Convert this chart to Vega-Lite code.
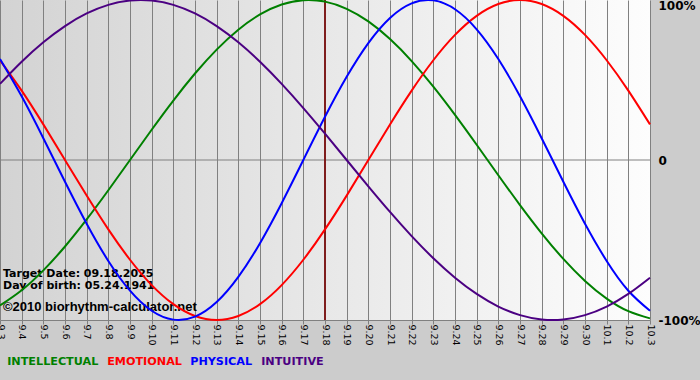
{
  "$schema": "https://vega.github.io/schema/vega-lite/v6.json",
  "width": 650,
  "height": 320,
  "autosize": {"type": "none"},
  "padding": {"left": 0, "top": 0, "right": 50, "bottom": 60},
  "background": "#cccccc",
  "config": {
    "font": "DejaVu Sans",
    "view": {
      "stroke": null,
      "fill": {"x1": 0, "y1": 0, "x2": 1, "y2": 0, "gradient": "linear", "stops": [{"offset": 0, "color": "#d3d3d3"}, {"offset": 1, "color": "#fdfdfd"}]}
    }
  },
  "datasets": {
    "bio": [
      {"d": "9.3", "INTELLECTUAL": -0.9096, "EMOTIONAL": 0.6235, "PHYSICAL": 0.6311, "INTUITIVE": 0.4759},
      {"d": "9.4", "INTELLECTUAL": -0.8146, "EMOTIONAL": 0.4339, "PHYSICAL": 0.3984, "INTUITIVE": 0.6142},
      {"d": "9.5", "INTELLECTUAL": -0.6901, "EMOTIONAL": 0.2225, "PHYSICAL": 0.1362, "INTUITIVE": 0.7357},
      {"d": "9.6", "INTELLECTUAL": -0.5406, "EMOTIONAL": 0, "PHYSICAL": -0.1362, "INTUITIVE": 0.8372},
      {"d": "9.7", "INTELLECTUAL": -0.3717, "EMOTIONAL": -0.2225, "PHYSICAL": -0.3984, "INTUITIVE": 0.9158},
      {"d": "9.8", "INTELLECTUAL": -0.1893, "EMOTIONAL": -0.4339, "PHYSICAL": -0.6311, "INTUITIVE": 0.9694},
      {"d": "9.9", "INTELLECTUAL": 0, "EMOTIONAL": -0.6235, "PHYSICAL": -0.817, "INTUITIVE": 0.9966},
      {"d": "9.10", "INTELLECTUAL": 0.1893, "EMOTIONAL": -0.7818, "PHYSICAL": -0.9423, "INTUITIVE": 0.9966},
      {"d": "9.11", "INTELLECTUAL": 0.3717, "EMOTIONAL": -0.901, "PHYSICAL": -0.9977, "INTUITIVE": 0.9694},
      {"d": "9.12", "INTELLECTUAL": 0.5406, "EMOTIONAL": -0.9749, "PHYSICAL": -0.9791, "INTUITIVE": 0.9158},
      {"d": "9.13", "INTELLECTUAL": 0.6901, "EMOTIONAL": -1, "PHYSICAL": -0.8879, "INTUITIVE": 0.8372},
      {"d": "9.14", "INTELLECTUAL": 0.8146, "EMOTIONAL": -0.9749, "PHYSICAL": -0.7308, "INTUITIVE": 0.7357},
      {"d": "9.15", "INTELLECTUAL": 0.9096, "EMOTIONAL": -0.901, "PHYSICAL": -0.5196, "INTUITIVE": 0.6142},
      {"d": "9.16", "INTELLECTUAL": 0.9718, "EMOTIONAL": -0.7818, "PHYSICAL": -0.2698, "INTUITIVE": 0.4759},
      {"d": "9.17", "INTELLECTUAL": 0.9989, "EMOTIONAL": -0.6235, "PHYSICAL": 0, "INTUITIVE": 0.3247},
      {"d": "9.18", "INTELLECTUAL": 0.9898, "EMOTIONAL": -0.4339, "PHYSICAL": 0.2698, "INTUITIVE": 0.1646},
      {"d": "9.19", "INTELLECTUAL": 0.945, "EMOTIONAL": -0.2225, "PHYSICAL": 0.5196, "INTUITIVE": 0},
      {"d": "9.20", "INTELLECTUAL": 0.866, "EMOTIONAL": 0, "PHYSICAL": 0.7308, "INTUITIVE": -0.1646},
      {"d": "9.21", "INTELLECTUAL": 0.7557, "EMOTIONAL": 0.2225, "PHYSICAL": 0.8879, "INTUITIVE": -0.3247},
      {"d": "9.22", "INTELLECTUAL": 0.6182, "EMOTIONAL": 0.4339, "PHYSICAL": 0.9791, "INTUITIVE": -0.4759},
      {"d": "9.23", "INTELLECTUAL": 0.4582, "EMOTIONAL": 0.6235, "PHYSICAL": 0.9977, "INTUITIVE": -0.6142},
      {"d": "9.24", "INTELLECTUAL": 0.2817, "EMOTIONAL": 0.7818, "PHYSICAL": 0.9423, "INTUITIVE": -0.7357},
      {"d": "9.25", "INTELLECTUAL": 0.0951, "EMOTIONAL": 0.901, "PHYSICAL": 0.817, "INTUITIVE": -0.8372},
      {"d": "9.26", "INTELLECTUAL": -0.0951, "EMOTIONAL": 0.9749, "PHYSICAL": 0.6311, "INTUITIVE": -0.9158},
      {"d": "9.27", "INTELLECTUAL": -0.2817, "EMOTIONAL": 1, "PHYSICAL": 0.3984, "INTUITIVE": -0.9694},
      {"d": "9.28", "INTELLECTUAL": -0.4582, "EMOTIONAL": 0.9749, "PHYSICAL": 0.1362, "INTUITIVE": -0.9966},
      {"d": "9.29", "INTELLECTUAL": -0.6182, "EMOTIONAL": 0.901, "PHYSICAL": -0.1362, "INTUITIVE": -0.9966},
      {"d": "9.30", "INTELLECTUAL": -0.7557, "EMOTIONAL": 0.7818, "PHYSICAL": -0.3984, "INTUITIVE": -0.9694},
      {"d": "10.1", "INTELLECTUAL": -0.866, "EMOTIONAL": 0.6235, "PHYSICAL": -0.6311, "INTUITIVE": -0.9158},
      {"d": "10.2", "INTELLECTUAL": -0.945, "EMOTIONAL": 0.4339, "PHYSICAL": -0.817, "INTUITIVE": -0.8372},
      {"d": "10.3", "INTELLECTUAL": -0.9898, "EMOTIONAL": 0.2225, "PHYSICAL": -0.9423, "INTUITIVE": -0.7357}
    ],
    "notes": [
      {"d": "9.3", "v": -0.729, "t": "Target Date: 09.18.2025"},
      {"d": "9.3", "v": -0.808, "t": "Day of birth: 05.24.1941"}
    ],
    "credit": [
      {"d": "9.3", "v": -0.944, "t": "©2010 biorhythm-calculator.net"}
    ],
    "zero": [{"v": 0}],
    "target": [{"d": "9.18"}]
  },
  "layer": [
    {
      "data": {"name": "zero"},
      "mark": {"type": "rule", "color": "#808080", "strokeWidth": 1},
      "encoding": {
        "y": {"field": "v", "type": "quantitative", "title": null}
      }
    },
    {
      "data": {"name": "target"},
      "mark": {"type": "rule", "color": "#7f1d1d", "strokeWidth": 2},
      "encoding": {
        "x": {"field": "d", "type": "ordinal", "title": null}
      }
    },
    {
      "data": {"name": "notes"},
      "mark": {"type": "text", "align": "left", "baseline": "alphabetic", "dx": 3, "font": "DejaVu Sans", "fontSize": 11, "fontWeight": "bold", "color": "#000000"},
      "encoding": {
        "x": {"field": "d", "type": "ordinal", "title": null},
        "y": {"field": "v", "type": "quantitative", "title": null},
        "text": {"field": "t", "type": "nominal"}
      }
    },
    {
      "data": {"name": "credit"},
      "mark": {"type": "text", "align": "left", "baseline": "alphabetic", "dx": 3, "font": "Liberation Sans", "fontSize": 13, "fontWeight": "bold", "color": "#000000"},
      "encoding": {
        "x": {"field": "d", "type": "ordinal", "title": null},
        "y": {"field": "v", "type": "quantitative", "title": null},
        "text": {"field": "t", "type": "nominal"}
      }
    },
    {
      "data": {"name": "bio"},
      "transform": [{"fold": ["INTELLECTUAL", "EMOTIONAL", "PHYSICAL", "INTUITIVE"], "as": ["s", "v"]}],
      "mark": {"type": "line", "interpolate": "natural", "strokeWidth": 2},
      "encoding": {
        "x": {
          "field": "d", "type": "ordinal", "title": null,
          "scale": {"type": "point", "padding": 0, "domain": ["9.3","9.4","9.5","9.6","9.7","9.8","9.9","9.10","9.11","9.12","9.13","9.14","9.15","9.16","9.17","9.18","9.19","9.20","9.21","9.22","9.23","9.24","9.25","9.26","9.27","9.28","9.29","9.30","10.1","10.2","10.3"]},
          "axis": {"labelAngle": 90, "labelAlign": "left", "labelBaseline": "middle", "labelPadding": 0, "tickSize": 4, "tickColor": "#808080", "domainColor": "#808080", "grid": true, "gridColor": "#808080", "gridOpacity": 1, "labelFont": "DejaVu Sans", "labelFontSize": 9.5, "labelColor": "#000000", "labelOverlap": false, "labelFlush": false}
        },
        "y": {
          "field": "v", "type": "quantitative", "title": null,
          "scale": {"domain": [-1, 1], "nice": false, "zero": false},
          "axis": {"orient": "right", "values": [-1, 0, 1], "grid": false, "domain": false, "ticks": false, "labelPadding": 8, "labelFont": "DejaVu Sans", "labelFontSize": 12, "labelFontWeight": "bold", "labelColor": "#000000", "labelFlush": false, "labelExpr": "datum.value == 1 ? '100%' : datum.value == 0 ? '0' : '-100%'", "labelBaseline": {"condition": {"test": "datum.value == 1", "value": "top"}, "value": "middle"}}
        },
        "color": {
          "field": "s", "type": "nominal",
          "scale": {"domain": ["INTELLECTUAL", "EMOTIONAL", "PHYSICAL", "INTUITIVE"], "range": ["#008000", "#ff0000", "#0000ff", "#4b0082"]},
          "legend": {"title": null, "orient": "bottom", "direction": "horizontal", "offset": 10, "padding": 0, "symbolSize": 0, "symbolStrokeWidth": 0, "symbolOpacity": 0, "labelOffset": -4, "columnPadding": 1, "labelFont": "DejaVu Sans", "labelFontSize": 11.2, "labelFontWeight": "bold", "labelLimit": 0, "encode": {"labels": {"update": {"fill": {"scale": "color", "field": "value"}}}}}
        }
      }
    }
  ]
}
